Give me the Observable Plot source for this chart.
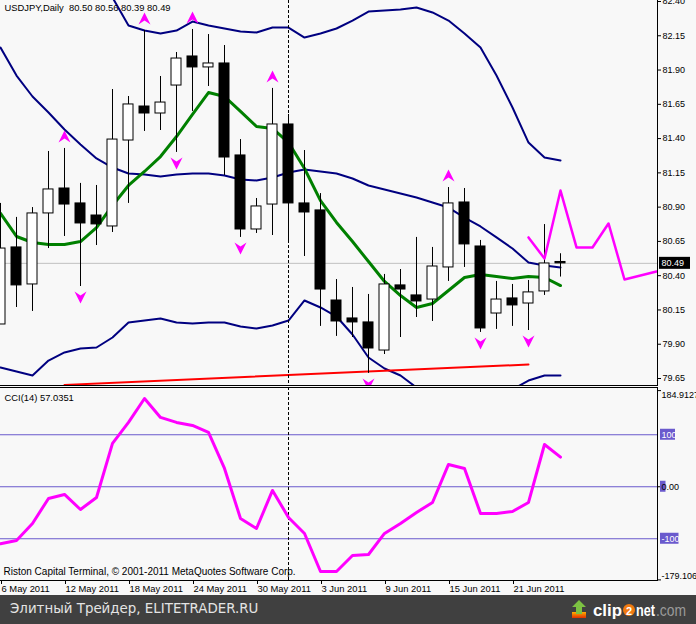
<!DOCTYPE html>
<html><head><meta charset="utf-8">
<script src="https://cdn.jsdelivr.net/npm/d3@7"></script>
<script src="https://cdn.jsdelivr.net/npm/@observablehq/plot@0.6"></script>
<style>
html,body{margin:0;padding:0;background:#f8f8f8;}
#root{position:relative;width:696px;height:624px;overflow:hidden;background:#f8f8f8;}
#main{position:absolute;left:0;top:0;}
#cci{position:absolute;left:0;top:387px;}
#footer{position:absolute;left:0;top:595px;width:696px;height:29px;background:#404040;}
#ftext{position:absolute;left:10px;top:6px;font:13.4px "DejaVu Sans",sans-serif;color:#e4e4e4;white-space:nowrap;}
#logo{position:absolute;left:568px;top:2px;}
</style></head>
<body><div id="root"><div id="main"></div><div id="cci"></div>
<div id="footer"><span id="ftext">Элитный Трейдер, ELITETRADER.RU</span>
<svg id="logo" width="128" height="26" viewBox="0 0 128 26">
  <defs><linearGradient id="og" x1="0" x2="0" y1="0" y2="1"><stop offset="0" stop-color="#ffb000"/><stop offset="1" stop-color="#e03000"/></linearGradient></defs>
  <rect x="4" y="15" width="14" height="6" fill="url(#og)"/>
  <path d="M11 3 L18 10 L14 10 L14 17 L8 17 L8 10 L4 10 Z" fill="#7cc242"/>
  <text x="25" y="19" textLength="29" lengthAdjust="spacingAndGlyphs" font-family="'Liberation Sans',sans-serif" font-weight="bold" font-size="16" fill="#ffffff">clip</text>
  <circle cx="61" cy="13" r="6" fill="#f07a10"/>
  <text x="61" y="17.5" text-anchor="middle" font-family="'Liberation Sans',sans-serif" font-weight="bold" font-size="11" fill="#ffffff">2</text>
  <text x="68" y="19" textLength="19" lengthAdjust="spacingAndGlyphs" font-family="'Liberation Sans',sans-serif" font-weight="bold" font-size="16" fill="#ffffff">net</text>
  <text x="88" y="19" textLength="30" lengthAdjust="spacingAndGlyphs" font-family="'Liberation Sans',sans-serif" font-size="16" fill="#9a9a9a">.com</text>
</svg></div>
</div>
<script>
// ---------- data ----------
const barDates = ["6 May 2011","9 May 2011","10 May 2011","11 May 2011","12 May 2011","13 May 2011","16 May 2011","17 May 2011","18 May 2011","19 May 2011","20 May 2011","23 May 2011","24 May 2011","25 May 2011","26 May 2011","27 May 2011","30 May 2011","31 May 2011","1 Jun 2011","2 Jun 2011","3 Jun 2011","6 Jun 2011","7 Jun 2011","8 Jun 2011","9 Jun 2011","10 Jun 2011","13 Jun 2011","14 Jun 2011","15 Jun 2011","16 Jun 2011","17 Jun 2011","20 Jun 2011","21 Jun 2011","22 Jun 2011","23 Jun 2011","24 Jun 2011"];
const opens  = [80.044,80.606,80.336,80.854,81.036,80.927,80.839,80.759,81.386,81.634,81.583,81.787,81.999,81.919,81.948,81.277,80.737,80.919,81.503,80.927,80.876,80.219,80.088,80.059,79.854,80.329,80.256,80.226,80.460,80.934,80.613,80.124,80.234,80.197,80.285,80.50];
const highs  = [80.927,80.825,80.897,81.306,81.328,81.073,81.058,81.758,81.707,82.189,81.853,82.028,82.196,82.159,82.079,81.393,80.963,81.766,81.576,81.313,80.999,80.372,80.314,80.263,80.409,80.445,80.679,80.606,81.043,81.036,80.657,80.358,80.336,80.365,80.773,80.56];
const lows   = [80.044,80.168,80.139,80.598,80.686,80.321,80.620,80.715,80.927,81.452,81.459,81.299,81.598,81.780,81.131,80.679,80.708,80.693,80.635,80.540,80.030,79.957,79.949,79.687,79.825,79.949,80.095,80.066,80.358,80.460,79.986,80.008,80.030,80.000,80.256,80.39];
const closes = [80.598,80.329,80.854,81.029,80.919,80.781,80.774,81.393,81.649,81.583,81.663,81.984,81.919,81.948,81.262,80.737,80.905,81.503,80.927,80.861,80.299,80.066,80.059,79.869,80.336,80.299,80.212,80.467,80.927,80.628,80.015,80.226,80.183,80.278,80.489,80.49];
const bbUpper  = [84.399,84.019,83.742,83.399,83.093,82.845,82.633,82.429,82.225,82.188,82.167,82.188,82.254,82.225,82.203,82.181,82.174,82.210,82.210,82.137,82.167,82.203,82.261,82.327,82.334,82.342,82.356,82.320,82.261,82.167,82.064,81.860,81.627,81.371,81.262,81.240];
const bbMiddle = [82.064,81.860,81.707,81.590,81.466,81.357,81.255,81.189,81.145,81.138,81.123,81.138,81.145,81.145,81.131,81.102,81.094,81.116,81.153,81.175,81.160,81.145,81.109,81.058,81.029,81.000,80.970,80.934,80.897,80.824,80.759,80.679,80.598,80.496,80.474,80.460];
const bbLower  = [79.730,79.701,79.672,79.781,79.840,79.869,79.876,79.949,80.058,80.073,80.088,80.058,80.051,80.058,80.058,80.029,80.015,80.037,80.073,80.219,80.168,80.102,79.971,79.803,79.723,79.672,79.584,79.548,79.533,79.482,79.453,79.497,79.570,79.635,79.672,79.672];
const maGreen  = [80.854,80.686,80.642,80.627,80.627,80.649,80.751,80.912,81.058,81.160,81.269,81.415,81.576,81.736,81.707,81.598,81.488,81.474,81.371,81.182,80.948,80.788,80.649,80.503,80.358,80.255,80.168,80.197,80.292,80.387,80.409,80.394,80.379,80.394,80.387,80.328];
const cciValues = [-109.6,-103.3,-70.6,-22.5,-14.8,-43.7,-20.6,83.3,123.7,169.8,133.3,123.7,117.9,104.4,35.2,-61.0,-80.2,-7.1,-59.0,-89.8,-162.9,-162.9,-132.1,-130.2,-89.8,-70.6,-49.4,-30.2,42.9,35.2,-51.3,-51.3,-47.5,-30.2,81.3,57.0351];
const projectionBars   = [33,34,35,36,37,38,39,40,41];
const projectionValues = [80.679,80.525,81.021,80.606,80.606,80.781,80.372,80.401,80.431];
const fractalUpBars   = [4,9,12,17,28];
const fractalDownBars = [5,11,15,23,30,33];
const trendBars   = [4,33];
const trendPrices = [79.603,79.752];
const priceTicks = [82.40,82.15,81.90,81.65,81.40,81.15,80.90,80.65,80.40,80.15,79.90,79.65];
const dateTickBars = [0,4,8,12,16,20,24,28,32];
const cciLevels = [100,0,-100];
const cciAxisMax = 184.9127, cciAxisMin = -179.106;
const cciMaxLabel = "184.9127", cciMinLabel = "-179.106", cciZeroLabel = "0.00";
const crosshairBar = 18;
const lastPrice = 80.49;
const symbolName = "USDJPY,Daily", ohlcText = "80.50 80.56 80.39 80.49";
const cciTitle = "CCI(14) 57.0351";
const copyright = "Riston Capital Terminal, © 2001-2011 MetaQuotes Software Corp.";

// ---------- build ----------
const bars = barDates.map((d,i)=>({i,date:d,open:opens[i],high:highs[i],low:lows[i],close:closes[i]}));
const ser = arr => arr.map((v,i)=>({i,v}));
const projection = projectionBars.map((b,k)=>({i:b,v:projectionValues[k]}));
const trend = trendBars.map((b,k)=>({i:b,v:trendPrices[k]}));
const xMax = 41.0625;
const FS_AXIS = 9, FS_TEXT = 9.4, FS_COPY = 10;
const FONT = "'Liberation Sans', Arial, sans-serif";
const style = {fontFamily: FONT, fontSize: "9.4px", background: "transparent", color: "#000", overflow: "visible"};

const arrowUp = {draw(c){c.moveTo(0,-6);c.lineTo(6,6);c.lineTo(0,2);c.lineTo(-6,6);c.closePath();}};
const arrowDown = {draw(c){c.moveTo(0,6);c.lineTo(6,-6);c.lineTo(0,-2);c.lineTo(-6,-6);c.closePath();}};

const main = Plot.plot({
  width: 696, height: 387, marginLeft: 0, marginRight: 39, marginTop: 0, marginBottom: 2,
  style,
  x: {type: "linear", domain: [0, xMax], axis: null},
  y: {type: "linear", domain: [79.65, 82.40], range: [378, 1]},
  marks: [
    Plot.ruleY([lastPrice], {stroke: "#c0c0c0"}),
    Plot.line(ser(bbUpper), {x: "i", y: "v", stroke: "#000080", strokeWidth: 2, clip: true}),
    Plot.line(ser(bbMiddle), {x: "i", y: "v", stroke: "#000080", strokeWidth: 2, clip: true}),
    Plot.line(ser(bbLower), {x: "i", y: "v", stroke: "#000080", strokeWidth: 2, clip: true}),
    Plot.line(trend, {x: "i", y: "v", stroke: "#ff0000", strokeWidth: 2, clip: true}),
    Plot.line(ser(maGreen), {x: "i", y: "v", stroke: "#008000", strokeWidth: 3, clip: true}),
    Plot.ruleX([crosshairBar], {stroke: "#000", strokeDasharray: "3,2"}),
    Plot.ruleX(bars, {x: "i", y1: "low", y2: "high", stroke: "#000", clip: true}),
    Plot.rect(bars.filter(d=>d.close>d.open), {x1: "i", x2: "i", y1: "open", y2: "close", insetLeft: -5, insetRight: -5, fill: "#fff", stroke: "#000", clip: true}),
    Plot.rect(bars.filter(d=>d.close<=d.open), {x1: "i", x2: "i", y1: "open", y2: "close", insetLeft: -5, insetRight: -5, fill: "#000", stroke: "#000", clip: true}),
    Plot.line(projection, {x: "i", y: "v", stroke: "#ff00ff", strokeWidth: 2.5, clip: true}),
    Plot.dot(fractalUpBars, {x: d=>d, y: d=>highs[d], symbol: arrowUp, fill: "#ff00ff", dy: -12, clip: true}),
    Plot.dot(fractalDownBars, {x: d=>d, y: d=>lows[d], symbol: arrowDown, fill: "#ff00ff", dy: 11, clip: true}),
    Plot.frame({anchor: "right"}),
    Plot.frame({anchor: "bottom"}),
    Plot.axisY({anchor: "right", ticks: priceTicks, tickFormat: d=>d.toFixed(2), tickSize: 3, tickPadding: 2, fontSize: FS_AXIS, label: null}),
    Plot.rect([lastPrice], {x1: xMax, x2: xMax, y1: d=>d, y2: d=>d, insetLeft: 2, insetRight: -33, insetTop: -6, insetBottom: -6, fill: "#000"}),
    Plot.text([lastPrice], {x: xMax, y: d=>d, text: d=>d.toFixed(2), textAnchor: "start", dx: 4, fill: "#fff", fontSize: FS_AXIS}),
    Plot.text([symbolName + "\u00a0\u00a0" + ohlcText], {frameAnchor: "top-left", text: d=>d, textAnchor: "start", lineAnchor: "top", dx: 4, dy: 4, fontSize: FS_TEXT})
  ]
});
document.getElementById("main").appendChild(main);

const levelBox = (lvl, w) => Plot.rect([lvl], {x1: xMax, x2: xMax, y1: d=>d, y2: d=>d, insetLeft: 3, insetRight: -(3+w), insetTop: -5.5, insetBottom: -5.5, fill: "#6a5acd"});
const cci = Plot.plot({
  width: 696, height: 208, marginLeft: 0, marginRight: 39, marginTop: 0, marginBottom: 15,
  style,
  x: {type: "linear", domain: [0, xMax]},
  y: {type: "linear", domain: [cciAxisMin, cciAxisMax], range: [192.4, 3.1]},
  marks: [
    Plot.ruleY(cciLevels, {stroke: "#6a5acd"}),
    Plot.ruleX([crosshairBar], {stroke: "#000", strokeDasharray: "3,2"}),
    Plot.line(ser(cciValues), {x: "i", y: "v", stroke: "#ff00ff", strokeWidth: 3}),
    Plot.frame({anchor: "top"}),
    Plot.frame({anchor: "right"}),
    Plot.frame({anchor: "bottom"}),
    Plot.axisY({anchor: "right", ticks: [cciAxisMax, 0, cciAxisMin], tickFormat: () => "", tickSize: 3, label: null}),
    levelBox(100, 15), levelBox(0, 5.5), levelBox(-100, 18.5),
    Plot.text([100, -100], {x: xMax, y: d=>d, text: d=>String(d), textAnchor: "start", dx: 4, fill: "#fff", fontSize: FS_AXIS}),
    Plot.text([0], {x: xMax, y: d=>d, text: () => cciZeroLabel, textAnchor: "start", dx: 4, fontSize: FS_AXIS}),
    Plot.text([cciAxisMax], {x: xMax, y: d=>d, text: () => cciMaxLabel, textAnchor: "start", lineAnchor: "top", dx: 4, dy: 1, fontSize: FS_AXIS}),
    Plot.text([cciAxisMin], {x: xMax, y: d=>d, text: () => cciMinLabel, textAnchor: "start", lineAnchor: "bottom", dx: 4, dy: -1, fontSize: FS_AXIS}),
    Plot.text([cciTitle], {frameAnchor: "top-left", text: d=>d, textAnchor: "start", lineAnchor: "top", dx: 4, dy: 7, fontSize: FS_TEXT}),
    Plot.text([copyright], {frameAnchor: "top-left", text: d=>d, textAnchor: "start", lineAnchor: "top", dx: 3, dy: 180, fontSize: FS_COPY}),
    Plot.axisX({anchor: "bottom", ticks: dateTickBars, tickFormat: d => barDates[d], tickSize: 4, tickPadding: 1, textAnchor: "start", dx: 1, fontSize: FS_TEXT, label: null})
  ]
});
document.getElementById("cci").appendChild(cci);
</script></body></html>
